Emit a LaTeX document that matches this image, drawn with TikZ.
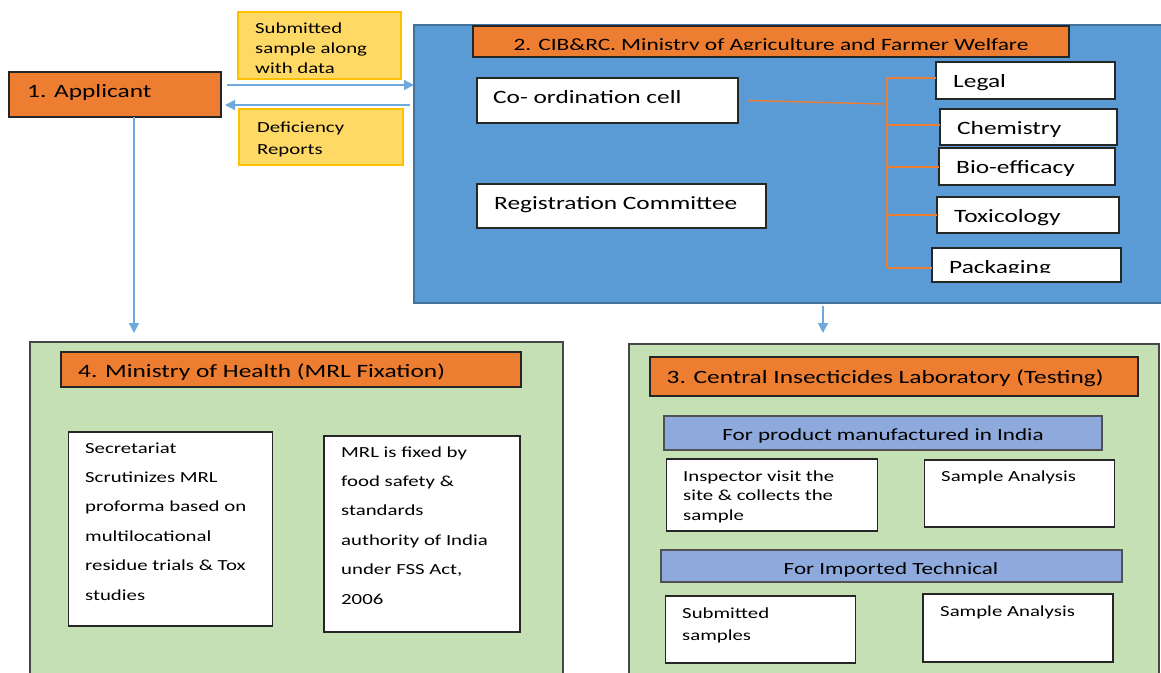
\documentclass[tikz,border=0pt]{standalone}
\usepackage{fontspec}
\setmainfont[FakeStretch=1.35]{Carlito}
\usetikzlibrary{arrows.meta}
\definecolor{orangeF}{HTML}{ED7D31}
\definecolor{yellowF}{HTML}{FFD966}
\definecolor{yellowD}{HTML}{FFC000}
\definecolor{blueF}{HTML}{5B9BD5}
\definecolor{blueD}{HTML}{41719C}
\definecolor{greenF}{HTML}{C5E0B4}
\definecolor{lblue}{HTML}{8EA9DB}
\definecolor{arrowC}{HTML}{6FA8DC}
\definecolor{edge}{HTML}{262626}
\newcommand\mlines[3]{\parbox[t]{#1}{\fontsize{15.4}{#2}\selectfont\raggedright #3}}
\begin{document}
\begin{tikzpicture}[x=1pt,y=-1pt,
  rect/.style={anchor=north west, inner sep=0pt, outer sep=0pt, draw=edge, line width=1.1pt, fill=white},
  big/.style={font=\fontsize{18.8}{22}\selectfont, inner sep=0pt, anchor=base west},
  hdr/.style={font=\fontsize{17.1}{20}\selectfont, inner sep=0pt, anchor=base},
  small/.style={inner sep=0pt, anchor=base west},
  link/.style={draw=arrowC, line width=1.2pt, -{Triangle[length=10pt,width=10pt]}},
  branch/.style={draw=orangeF, line width=1.4pt}]
\useasboundingbox (0,0) rectangle (1161,672);

% 1. Applicant
\node[rect, fill=orangeF, minimum width=212, minimum height=45] (app) at (9,72) {};
\node[big] (appT) at (27,97) {1. Applicant};

% yellow boxes
\node[rect, draw=yellowD, fill=yellowF, minimum width=163, minimum height=67] (sub) at (238,12) {};
\begin{scope}
\clip (238,12) rectangle (401,72);
\node[small] (subT) at (255,33.3) {\mlines{150pt}{20}{Submitted\\sample along\\with data}};
\end{scope}
\node[rect, draw=yellowD, fill=yellowF, minimum width=164, minimum height=56] (def) at (239,109) {};
\node[small] (defT) at (257,132) {\mlines{140pt}{22.5}{Deficiency\\Reports}};

% 2. CIB&RC
\node[rect, draw=blueD, line width=2pt, fill=blueF, minimum width=752, minimum height=278] (cib) at (414,25) {};
\node[rect, fill=orangeF, minimum width=596, minimum height=31] (t2) at (473,26) {};
\begin{scope}
\clip (473,26) rectangle (1069,49.5);
\node[font=\fontsize{17.3}{20}\selectfont, inner sep=0pt, anchor=base] (t2T) at (771,50.5) {2. CIB\&RC, Ministry of Agriculture and Farmer Welfare};
\end{scope}
\draw[draw=edge, line width=1.1pt] (t2.north west) rectangle (t2.south east);

\node[rect, minimum width=261, minimum height=45] (co) at (477,78) {};
\node[big] (coT) at (493,103) {Co- ordination cell};
\node[rect, minimum width=289, minimum height=44] (rc) at (477,184) {};
\node[big] (rcT) at (494,209) {Registration Committee};

\node[rect, minimum width=179, minimum height=37] (legal) at (936,62) {};
\node[big] (legalT) at (953,87) {Legal};
\node[rect, minimum width=177, minimum height=36] (chem) at (940,109) {};
\node[big] (chemT) at (957,134) {Chemistry};
\node[rect, minimum width=176, minimum height=37] (bio) at (939,148) {};
\node[big] (bioT) at (956,173) {Bio-efficacy};
\node[rect, minimum width=182, minimum height=36] (tox) at (937,197) {};
\node[big] (toxT) at (954,222) {Toxicology};
\node[rect, minimum width=189, minimum height=34] (pack) at (932,248) {};
\begin{scope}
\clip (932,248) rectangle (1121,272.5);
\node[big] (packT) at (949,273) {Packaging};
\end{scope}

% branch lines
\coordinate (b0) at (884,104);
\coordinate (b1) at (887,78);
\coordinate (b2) at (887,125);
\coordinate (b3) at (887,167);
\coordinate (b4) at (887,215);
\coordinate (b5) at (887,268);
\draw[branch] ([xshift=10pt]co.east) -- (b0);
\draw[branch] (b1) -- (b5);
\draw[branch] (b1) -- (b1 -| legal.west);
\draw[branch] (b2) -- (b2 -| chem.west);
\draw[branch] (b3) -- (b3 -| bio.west);
\draw[branch] (b4) -- (b4 -| tox.west);
\draw[branch] (b5) -- (b5 -| pack.west);

% 4. Ministry of Health
\node[rect, fill=greenF, draw=edge!85, minimum width=533, minimum height=340] (mh) at (30,342) {};
\node[rect, fill=orangeF, minimum width=460, minimum height=35] (t4) at (61,352) {};
\node[big] (t4T) at (78,377) {4. Ministry of Health (MRL Fixation)};
\node[rect, minimum width=204, minimum height=194] (sec) at (68.5,432) {};
\node[small] (secT) at (85,453) {\mlines{185pt}{29.4}{Secretariat\\Scrutinizes MRL\\proforma based on\\multilocational\\residue trials \& Tox\\studies}};
\node[rect, minimum width=196, minimum height=196] (mrl) at (324,436) {};
\node[small] (mrlT) at (341,457) {\mlines{175pt}{29.4}{MRL is fixed by\\food safety \&\\standards\\authority of India\\under FSS Act,\\2006}};

% 3. Central Insecticides Laboratory
\node[rect, fill=greenF, draw=edge!85, minimum width=530, minimum height=340] (cil) at (629,344) {};
\node[rect, fill=orangeF, minimum width=488, minimum height=39] (t3) at (650,357) {};
\node[big] (t3T) at (666.5,383) {3. Central Insecticides Laboratory (Testing)};
\node[rect, fill=lblue, draw=edge!80, minimum width=438, minimum height=34] (pm) at (664,416) {};
\node[hdr] (pmT) at (883,440) {For product manufactured in India};
\node[rect, minimum width=211, minimum height=72] (insp) at (666.5,459) {};
\node[small] (inspT) at (683,481) {\mlines{190pt}{19.7}{Inspector visit the\\site \& collects the\\sample}};
\node[rect, minimum width=190, minimum height=67] (sa1) at (924.5,460) {};
\node[small] (sa1T) at (941,481.7) {\mlines{170pt}{20}{Sample Analysis}};
\node[rect, fill=lblue, draw=edge!80, minimum width=461, minimum height=32] (it) at (661,550) {};
\node[hdr] (itT) at (891,574) {For Imported Technical};
\node[rect, minimum width=190, minimum height=67] (subs) at (665.5,596) {};
\node[small] (subsT) at (682,618) {\mlines{170pt}{22}{Submitted\\samples}};
\node[rect, minimum width=190, minimum height=68] (sa2) at (923,594) {};
\node[small] (sa2T) at (940,616) {\mlines{170pt}{20}{Sample Analysis}};

% connectors
\coordinate (s1) at ([shift={(6,-9.5)}]app.east);
\draw[link] (s1) -- (s1 -| cib.west);
\coordinate (s2) at ([shift={(-4,10.5)}]cib.west |- app.east);
\draw[link, shorten >=4pt] (s2) -- (s2 -| app.east);
\draw[link, shorten >=9pt] ([xshift=19pt]app.south) -- ([xshift=19pt]app.south |- mh.north);
\draw[link, shorten <=3pt, shorten >=11pt] ([xshift=33pt]cib.south) -- ([xshift=33pt]cib.south |- cil.north);
\end{tikzpicture}
\end{document}
